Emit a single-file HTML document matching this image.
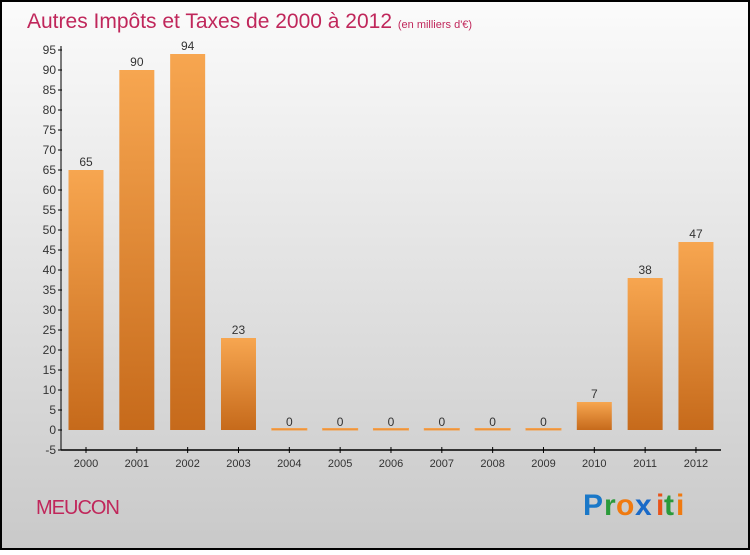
<!DOCTYPE html>
<html><head><meta charset="utf-8"><style>
html,body{margin:0;padding:0;}
body{width:750px;height:550px;overflow:hidden;font-family:"Liberation Sans",sans-serif;}
</style></head><body>
<svg id="chart" width="750" height="550" xmlns="http://www.w3.org/2000/svg">
<defs>
<linearGradient id="bg" x1="0" y1="0" x2="0" y2="1"><stop offset="0" stop-color="#fbfbfb"/><stop offset="1" stop-color="#c9c9c9"/></linearGradient>
<linearGradient id="bar" x1="0" y1="0" x2="0" y2="1"><stop offset="0" stop-color="#f7a650"/><stop offset="1" stop-color="#c66a1b"/></linearGradient>
</defs>
<rect x="1" y="1" width="748" height="548" fill="url(#bg)" stroke="#000" stroke-width="2"/>
<text x="27" y="28" font-size="21" fill="#c0275b">Autres Impôts et Taxes de 2000 à 2012 <tspan font-size="11">(en milliers d'€)</tspan></text>
<g id="plot"></g>
<text x="36" y="514" font-size="20" fill="#c0275b" letter-spacing="-1">MEUCON</text>
<g font-size="30" font-weight="bold" font-family="'Liberation Sans',sans-serif">
<text x="583" y="515" fill="#1a78c8">P</text><text x="604" y="515" fill="#2a9a3a">r</text><text x="616" y="515" fill="#f07a10">o</text><text x="635" y="515" fill="#1a6ac8">x</text><text x="656" y="515" fill="#e8541a">i</text><text x="664" y="515" fill="#2a9a3a">t</text><text x="676" y="515" fill="#f07a10">i</text>
</g>
</svg>
<script>
const categories=["2000","2001","2002","2003","2004","2005","2006","2007","2008","2009","2010","2011","2012"];
const values=[65,90,94,23,0,0,0,0,0,0,7,38,47];
const yTicks=[-5,0,5,10,15,20,25,30,35,40,45,50,55,60,65,70,75,80,85,90,95];
const NS="http://www.w3.org/2000/svg";
const g=document.getElementById('plot');
const y=v=>430-(v)*4;
const x=i=>86+i*50.83;
function el(t,a){const e=document.createElementNS(NS,t);for(const k in a)e.setAttribute(k,a[k]);g.appendChild(e);return e;}
let ax=el('line',{x1:61,y1:46,x2:61,y2:450,stroke:'#000','stroke-width':1});


let bx=el('line',{x1:61,y1:450,x2:721,y2:450,stroke:'#000','stroke-width':1.5});


yTicks.forEach(v=>{
 el('line',{x1:58,x2:62,y1:y(v),y2:y(v),stroke:'#000'});
 const t=el('text',{x:56,y:y(v)+4,'text-anchor':'end','font-size':12,fill:'#333'});
 t.textContent=v;
 
 
});
categories.forEach((c,i)=>{
 const cx=x(i),v=values[i];
 el('line',{x1:cx,x2:cx,y1:447,y2:453,stroke:'#000'});
 const t=el('text',{x:cx,y:467,'text-anchor':'middle','font-size':11,fill:'#333'});
 t.textContent=c;
 
 
 const h=Math.max(v*4,1.5);
 const r=el('rect',{x:cx-17.5,y:y(0)-h+(v===0?0:0),width:35,height:h,fill:'url(#bar)',stroke:v===0?'#f5a04a':'none'});
 
 
 const l=el('text',{x:cx,y:y(v)-4,'text-anchor':'middle','font-size':12,fill:'#333'});
 l.textContent=v;
 
 
});
</script>
</body></html>
